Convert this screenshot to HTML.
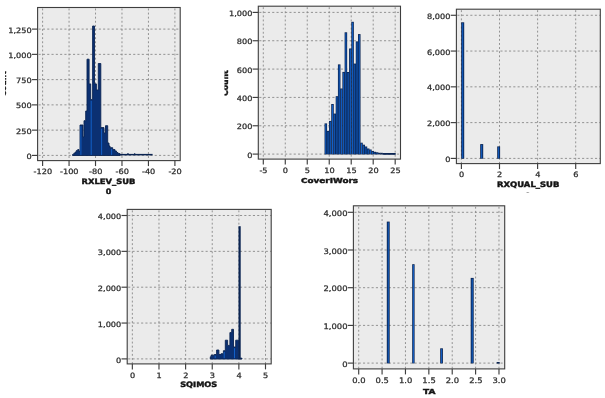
<!DOCTYPE html>
<html><head><meta charset="utf-8"><title>Histograms</title>
<style>
html,body{margin:0;padding:0;background:#fff;}
body{width:605px;height:398px;overflow:hidden;}
svg{display:block;}
.t{font-family:"DejaVu Sans", "Liberation Sans", sans-serif;font-size:8.2px;fill:#2e2e2e;stroke:#2e2e2e;stroke-width:0.3px;}
.h{font-family:"DejaVu Sans", "Liberation Sans", sans-serif;font-size:8px;font-weight:bold;fill:#141414;stroke:#141414;stroke-width:0.45px;}
</style></head><body>
<svg width="605" height="398" viewBox="0 0 605 398">
<rect width="605" height="398" fill="#fff"/>
<g>
<rect x="37.60" y="7.50" width="142.60" height="153.10" fill="#ebebeb"/>
<line x1="42.60" y1="8.50" x2="42.60" y2="160.60" stroke="#888888" stroke-width="0.9" stroke-dasharray="1.9 2.2"/>
<line x1="69.06" y1="8.50" x2="69.06" y2="160.60" stroke="#888888" stroke-width="0.9" stroke-dasharray="1.9 2.2"/>
<line x1="95.52" y1="8.50" x2="95.52" y2="160.60" stroke="#888888" stroke-width="0.9" stroke-dasharray="1.9 2.2"/>
<line x1="121.98" y1="8.50" x2="121.98" y2="160.60" stroke="#888888" stroke-width="0.9" stroke-dasharray="1.9 2.2"/>
<line x1="148.44" y1="8.50" x2="148.44" y2="160.60" stroke="#888888" stroke-width="0.9" stroke-dasharray="1.9 2.2"/>
<line x1="174.90" y1="8.50" x2="174.90" y2="160.60" stroke="#888888" stroke-width="0.9" stroke-dasharray="1.9 2.2"/>
<line x1="38.60" y1="155.40" x2="180.20" y2="155.40" stroke="#888888" stroke-width="0.9" stroke-dasharray="2.1 2.2"/>
<line x1="38.60" y1="130.14" x2="180.20" y2="130.14" stroke="#888888" stroke-width="0.9" stroke-dasharray="2.1 2.2"/>
<line x1="38.60" y1="104.88" x2="180.20" y2="104.88" stroke="#888888" stroke-width="0.9" stroke-dasharray="2.1 2.2"/>
<line x1="38.60" y1="79.62" x2="180.20" y2="79.62" stroke="#888888" stroke-width="0.9" stroke-dasharray="2.1 2.2"/>
<line x1="38.60" y1="54.36" x2="180.20" y2="54.36" stroke="#888888" stroke-width="0.9" stroke-dasharray="2.1 2.2"/>
<line x1="38.60" y1="29.10" x2="180.20" y2="29.10" stroke="#888888" stroke-width="0.9" stroke-dasharray="2.1 2.2"/>
<path d="M72.50,155.50 L72.50,154.50 L73.80,154.50 L73.80,153.30 L75.10,153.30 L75.10,152.00 L76.40,152.00 L76.40,150.50 L77.70,150.50 L77.70,149.60 L79.00,149.60 L79.00,151.50 L80.00,151.50 L80.00,125.00 L83.00,125.00 L83.00,137.00 L84.00,137.00 L84.00,120.70 L85.70,120.70 L85.70,111.00 L87.00,111.00 L87.00,59.20 L89.10,59.20 L89.10,83.90 L90.70,83.90 L90.70,99.60 L92.60,99.60 L92.60,26.00 L94.50,26.00 L94.50,83.90 L96.40,83.90 L96.40,90.00 L98.30,90.00 L98.30,63.50 L100.80,63.50 L100.80,127.60 L104.00,127.60 L104.00,133.00 L105.50,133.00 L105.50,125.70 L107.70,125.70 L107.70,143.00 L109.00,143.00 L109.00,146.00 L110.00,146.00 L110.00,147.70 L112.70,147.70 L112.70,149.60 L115.00,149.60 L115.00,151.00 L116.50,151.00 L116.50,152.50 L118.00,152.50 L118.00,153.60 L120.00,153.60 L120.00,155.50Z" fill="#0b3072" stroke="#0a2452" stroke-width="0.9" stroke-linejoin="miter"/>
<rect x="119.50" y="153.90" width="33.10" height="1.50" fill="#0a2452"/>
<rect x="127.30" y="153.10" width="1.30" height="1.90" fill="#0a2452"/>
<rect x="134.00" y="153.30" width="1.30" height="1.70" fill="#0a2452"/>
<rect x="80.40" y="126.20" width="1.00" height="28.70" fill="#1260c8"/>
<rect x="90.70" y="100.80" width="1.00" height="54.10" fill="#1260c8"/>
<rect x="101.10" y="128.80" width="1.00" height="26.10" fill="#1260c8"/>
<rect x="111.10" y="148.90" width="1.00" height="6.00" fill="#1260c8"/>
<rect x="37.60" y="7.50" width="142.60" height="153.10" fill="none" stroke="#3e3e3e" stroke-width="1.1"/>
<line x1="42.60" y1="160.60" x2="42.60" y2="166.10" stroke="#3e3e3e" stroke-width="1.15"/>
<text transform="translate(42.80,174.00) scale(1.0,0.9)" text-anchor="middle" class="t" style="font-size:8.2px">-120</text>
<line x1="69.06" y1="160.60" x2="69.06" y2="166.10" stroke="#3e3e3e" stroke-width="1.15"/>
<text transform="translate(69.26,174.00) scale(1.0,0.9)" text-anchor="middle" class="t" style="font-size:8.2px">-100</text>
<line x1="95.52" y1="160.60" x2="95.52" y2="166.10" stroke="#3e3e3e" stroke-width="1.15"/>
<text transform="translate(95.72,174.00) scale(1.0,0.9)" text-anchor="middle" class="t" style="font-size:8.2px">-80</text>
<line x1="121.98" y1="160.60" x2="121.98" y2="166.10" stroke="#3e3e3e" stroke-width="1.15"/>
<text transform="translate(122.18,174.00) scale(1.0,0.9)" text-anchor="middle" class="t" style="font-size:8.2px">-60</text>
<line x1="148.44" y1="160.60" x2="148.44" y2="166.10" stroke="#3e3e3e" stroke-width="1.15"/>
<text transform="translate(148.64,174.00) scale(1.0,0.9)" text-anchor="middle" class="t" style="font-size:8.2px">-40</text>
<line x1="174.90" y1="160.60" x2="174.90" y2="166.10" stroke="#3e3e3e" stroke-width="1.15"/>
<text transform="translate(175.10,174.00) scale(1.0,0.9)" text-anchor="middle" class="t" style="font-size:8.2px">-20</text>
<line x1="31.90" y1="155.40" x2="37.60" y2="155.40" stroke="#3e3e3e" stroke-width="1.15"/>
<text transform="translate(31.70,159.00) scale(1.0,0.9)" text-anchor="end" class="t" style="font-size:8.2px">0</text>
<line x1="31.90" y1="130.14" x2="37.60" y2="130.14" stroke="#3e3e3e" stroke-width="1.15"/>
<text transform="translate(31.70,133.74) scale(1.0,0.9)" text-anchor="end" class="t" style="font-size:8.2px">250</text>
<line x1="31.90" y1="104.88" x2="37.60" y2="104.88" stroke="#3e3e3e" stroke-width="1.15"/>
<text transform="translate(31.70,108.48) scale(1.0,0.9)" text-anchor="end" class="t" style="font-size:8.2px">500</text>
<line x1="31.90" y1="79.62" x2="37.60" y2="79.62" stroke="#3e3e3e" stroke-width="1.15"/>
<text transform="translate(31.70,83.22) scale(1.0,0.9)" text-anchor="end" class="t" style="font-size:8.2px">750</text>
<line x1="31.90" y1="54.36" x2="37.60" y2="54.36" stroke="#3e3e3e" stroke-width="1.15"/>
<text transform="translate(31.70,57.96) scale(1.0,0.9)" text-anchor="end" class="t" style="font-size:8.2px">1,000</text>
<line x1="31.90" y1="29.10" x2="37.60" y2="29.10" stroke="#3e3e3e" stroke-width="1.15"/>
<text transform="translate(31.70,32.70) scale(1.0,0.9)" text-anchor="end" class="t" style="font-size:8.2px">1,250</text>
<text transform="translate(108.50,183.90) scale(1.048,0.93)" text-anchor="middle" class="h">RXLEV_SUB</text>
<text transform="translate(108.50,194.40) scale(1.000,0.93)" text-anchor="middle" class="h">0</text>
</g>
<g>
<rect x="258.30" y="6.20" width="142.20" height="152.90" fill="#ebebeb"/>
<line x1="263.30" y1="7.20" x2="263.30" y2="159.10" stroke="#888888" stroke-width="0.9" stroke-dasharray="1.9 2.2"/>
<line x1="285.28" y1="7.20" x2="285.28" y2="159.10" stroke="#888888" stroke-width="0.9" stroke-dasharray="1.9 2.2"/>
<line x1="307.26" y1="7.20" x2="307.26" y2="159.10" stroke="#888888" stroke-width="0.9" stroke-dasharray="1.9 2.2"/>
<line x1="329.24" y1="7.20" x2="329.24" y2="159.10" stroke="#888888" stroke-width="0.9" stroke-dasharray="1.9 2.2"/>
<line x1="351.22" y1="7.20" x2="351.22" y2="159.10" stroke="#888888" stroke-width="0.9" stroke-dasharray="1.9 2.2"/>
<line x1="373.20" y1="7.20" x2="373.20" y2="159.10" stroke="#888888" stroke-width="0.9" stroke-dasharray="1.9 2.2"/>
<line x1="395.18" y1="7.20" x2="395.18" y2="159.10" stroke="#888888" stroke-width="0.9" stroke-dasharray="1.9 2.2"/>
<line x1="259.30" y1="154.10" x2="400.50" y2="154.10" stroke="#888888" stroke-width="0.9" stroke-dasharray="2.1 2.2"/>
<line x1="259.30" y1="125.76" x2="400.50" y2="125.76" stroke="#888888" stroke-width="0.9" stroke-dasharray="2.1 2.2"/>
<line x1="259.30" y1="97.42" x2="400.50" y2="97.42" stroke="#888888" stroke-width="0.9" stroke-dasharray="2.1 2.2"/>
<line x1="259.30" y1="69.08" x2="400.50" y2="69.08" stroke="#888888" stroke-width="0.9" stroke-dasharray="2.1 2.2"/>
<line x1="259.30" y1="40.74" x2="400.50" y2="40.74" stroke="#888888" stroke-width="0.9" stroke-dasharray="2.1 2.2"/>
<line x1="259.30" y1="12.40" x2="400.50" y2="12.40" stroke="#888888" stroke-width="0.9" stroke-dasharray="2.1 2.2"/>
<rect x="324.55" y="123.40" width="2.53" height="31.00" fill="#0a2452"/>
<rect x="325.31" y="124.20" width="1.00" height="29.70" fill="#1260c8"/>
<rect x="326.78" y="130.90" width="2.53" height="23.50" fill="#0a2452"/>
<rect x="327.54" y="131.70" width="1.00" height="22.20" fill="#1260c8"/>
<rect x="329.01" y="120.90" width="2.53" height="33.50" fill="#0a2452"/>
<rect x="329.77" y="121.70" width="1.00" height="32.20" fill="#1260c8"/>
<rect x="331.24" y="104.00" width="2.53" height="50.40" fill="#0a2452"/>
<rect x="332.00" y="104.80" width="1.00" height="49.10" fill="#1260c8"/>
<rect x="333.47" y="113.60" width="2.53" height="40.80" fill="#0a2452"/>
<rect x="334.24" y="114.40" width="1.00" height="39.50" fill="#1260c8"/>
<rect x="335.70" y="96.20" width="2.53" height="58.20" fill="#0a2452"/>
<rect x="336.46" y="97.00" width="1.00" height="56.90" fill="#1260c8"/>
<rect x="337.93" y="64.40" width="2.53" height="90.00" fill="#0a2452"/>
<rect x="338.69" y="65.20" width="1.00" height="88.70" fill="#1260c8"/>
<rect x="340.16" y="88.50" width="2.53" height="65.90" fill="#0a2452"/>
<rect x="340.92" y="89.30" width="1.00" height="64.60" fill="#1260c8"/>
<rect x="342.39" y="71.90" width="2.53" height="82.50" fill="#0a2452"/>
<rect x="343.15" y="72.70" width="1.00" height="81.20" fill="#1260c8"/>
<rect x="344.62" y="32.30" width="2.53" height="122.10" fill="#0a2452"/>
<rect x="345.38" y="33.10" width="1.00" height="120.80" fill="#1260c8"/>
<rect x="346.85" y="72.00" width="2.53" height="82.40" fill="#0a2452"/>
<rect x="347.62" y="72.80" width="1.00" height="81.10" fill="#1260c8"/>
<rect x="349.08" y="48.50" width="2.53" height="105.90" fill="#0a2452"/>
<rect x="349.85" y="49.30" width="1.00" height="104.60" fill="#1260c8"/>
<rect x="351.31" y="21.80" width="2.53" height="132.60" fill="#0a2452"/>
<rect x="352.07" y="22.60" width="1.00" height="131.30" fill="#1260c8"/>
<rect x="353.54" y="63.60" width="2.53" height="90.80" fill="#0a2452"/>
<rect x="354.30" y="64.40" width="1.00" height="89.50" fill="#1260c8"/>
<rect x="355.77" y="41.40" width="2.53" height="113.00" fill="#0a2452"/>
<rect x="356.53" y="42.20" width="1.00" height="111.70" fill="#1260c8"/>
<rect x="358.00" y="34.10" width="2.53" height="120.30" fill="#0a2452"/>
<rect x="358.76" y="34.90" width="1.00" height="119.00" fill="#1260c8"/>
<rect x="360.23" y="142.70" width="2.53" height="11.70" fill="#0a2452"/>
<rect x="361.00" y="143.50" width="1.00" height="10.40" fill="#1260c8"/>
<rect x="362.46" y="144.70" width="2.53" height="9.70" fill="#0a2452"/>
<rect x="363.23" y="145.50" width="1.00" height="8.40" fill="#1260c8"/>
<rect x="364.69" y="146.50" width="2.53" height="7.90" fill="#0a2452"/>
<rect x="365.45" y="147.30" width="1.00" height="6.60" fill="#1260c8"/>
<rect x="366.92" y="148.50" width="2.53" height="5.90" fill="#0a2452"/>
<rect x="367.69" y="149.30" width="1.00" height="4.60" fill="#1260c8"/>
<rect x="369.15" y="149.50" width="2.53" height="4.90" fill="#0a2452"/>
<rect x="369.91" y="150.30" width="1.00" height="3.60" fill="#1260c8"/>
<rect x="371.38" y="151.00" width="2.53" height="3.40" fill="#0a2452"/>
<rect x="372.14" y="151.80" width="1.00" height="2.10" fill="#1260c8"/>
<rect x="373.61" y="151.80" width="2.53" height="2.60" fill="#0a2452"/>
<rect x="374.38" y="152.60" width="1.00" height="1.30" fill="#1260c8"/>
<rect x="375.84" y="152.30" width="2.53" height="2.10" fill="#0a2452"/>
<rect x="376.61" y="153.10" width="1.00" height="0.80" fill="#1260c8"/>
<rect x="378.07" y="152.80" width="2.53" height="1.60" fill="#0a2452"/>
<rect x="380.30" y="152.80" width="2.53" height="1.60" fill="#0a2452"/>
<rect x="382.48" y="153.00" width="13.22" height="1.80" fill="#0a2452"/>
<rect x="258.30" y="6.20" width="142.20" height="152.90" fill="none" stroke="#3e3e3e" stroke-width="1.1"/>
<line x1="263.30" y1="159.10" x2="263.30" y2="164.60" stroke="#3e3e3e" stroke-width="1.15"/>
<text transform="translate(263.50,172.70) scale(1.0,0.9)" text-anchor="middle" class="t" style="font-size:8.2px">-5</text>
<line x1="285.28" y1="159.10" x2="285.28" y2="164.60" stroke="#3e3e3e" stroke-width="1.15"/>
<text transform="translate(285.48,172.70) scale(1.0,0.9)" text-anchor="middle" class="t" style="font-size:8.2px">0</text>
<line x1="307.26" y1="159.10" x2="307.26" y2="164.60" stroke="#3e3e3e" stroke-width="1.15"/>
<text transform="translate(307.46,172.70) scale(1.0,0.9)" text-anchor="middle" class="t" style="font-size:8.2px">5</text>
<line x1="329.24" y1="159.10" x2="329.24" y2="164.60" stroke="#3e3e3e" stroke-width="1.15"/>
<text transform="translate(329.44,172.70) scale(1.0,0.9)" text-anchor="middle" class="t" style="font-size:8.2px">10</text>
<line x1="351.22" y1="159.10" x2="351.22" y2="164.60" stroke="#3e3e3e" stroke-width="1.15"/>
<text transform="translate(351.42,172.70) scale(1.0,0.9)" text-anchor="middle" class="t" style="font-size:8.2px">15</text>
<line x1="373.20" y1="159.10" x2="373.20" y2="164.60" stroke="#3e3e3e" stroke-width="1.15"/>
<text transform="translate(373.40,172.70) scale(1.0,0.9)" text-anchor="middle" class="t" style="font-size:8.2px">20</text>
<line x1="395.18" y1="159.10" x2="395.18" y2="164.60" stroke="#3e3e3e" stroke-width="1.15"/>
<text transform="translate(395.38,172.70) scale(1.0,0.9)" text-anchor="middle" class="t" style="font-size:8.2px">25</text>
<line x1="252.60" y1="154.10" x2="258.30" y2="154.10" stroke="#3e3e3e" stroke-width="1.15"/>
<text transform="translate(252.40,157.70) scale(1.0,0.9)" text-anchor="end" class="t" style="font-size:8.2px">0</text>
<line x1="252.60" y1="125.76" x2="258.30" y2="125.76" stroke="#3e3e3e" stroke-width="1.15"/>
<text transform="translate(252.40,129.36) scale(1.0,0.9)" text-anchor="end" class="t" style="font-size:8.2px">200</text>
<line x1="252.60" y1="97.42" x2="258.30" y2="97.42" stroke="#3e3e3e" stroke-width="1.15"/>
<text transform="translate(252.40,101.02) scale(1.0,0.9)" text-anchor="end" class="t" style="font-size:8.2px">400</text>
<line x1="252.60" y1="69.08" x2="258.30" y2="69.08" stroke="#3e3e3e" stroke-width="1.15"/>
<text transform="translate(252.40,72.68) scale(1.0,0.9)" text-anchor="end" class="t" style="font-size:8.2px">600</text>
<line x1="252.60" y1="40.74" x2="258.30" y2="40.74" stroke="#3e3e3e" stroke-width="1.15"/>
<text transform="translate(252.40,44.34) scale(1.0,0.9)" text-anchor="end" class="t" style="font-size:8.2px">800</text>
<line x1="252.60" y1="12.40" x2="258.30" y2="12.40" stroke="#3e3e3e" stroke-width="1.15"/>
<text transform="translate(252.40,16.00) scale(1.0,0.9)" text-anchor="end" class="t" style="font-size:8.2px">1,000</text>
<text transform="translate(329.50,182.50) scale(1.109,0.93)" text-anchor="middle" class="h">CoverIWors</text>
</g>
<g>
<rect x="456.40" y="9.20" width="143.90" height="154.40" fill="#ebebeb"/>
<line x1="461.40" y1="10.20" x2="461.40" y2="163.60" stroke="#888888" stroke-width="0.9" stroke-dasharray="1.9 2.2"/>
<line x1="499.50" y1="10.20" x2="499.50" y2="163.60" stroke="#888888" stroke-width="0.9" stroke-dasharray="1.9 2.2"/>
<line x1="537.60" y1="10.20" x2="537.60" y2="163.60" stroke="#888888" stroke-width="0.9" stroke-dasharray="1.9 2.2"/>
<line x1="575.70" y1="10.20" x2="575.70" y2="163.60" stroke="#888888" stroke-width="0.9" stroke-dasharray="1.9 2.2"/>
<line x1="457.40" y1="158.40" x2="600.30" y2="158.40" stroke="#888888" stroke-width="0.9" stroke-dasharray="2.1 2.2"/>
<line x1="457.40" y1="122.62" x2="600.30" y2="122.62" stroke="#888888" stroke-width="0.9" stroke-dasharray="2.1 2.2"/>
<line x1="457.40" y1="86.84" x2="600.30" y2="86.84" stroke="#888888" stroke-width="0.9" stroke-dasharray="2.1 2.2"/>
<line x1="457.40" y1="51.06" x2="600.30" y2="51.06" stroke="#888888" stroke-width="0.9" stroke-dasharray="2.1 2.2"/>
<line x1="457.40" y1="15.28" x2="600.30" y2="15.28" stroke="#888888" stroke-width="0.9" stroke-dasharray="2.1 2.2"/>
<rect x="461.20" y="22.30" width="3.00" height="136.40" fill="#0a2452"/>
<rect x="462.15" y="23.10" width="1.10" height="135.10" fill="#1260c8"/>
<rect x="480.20" y="144.10" width="3.00" height="14.60" fill="#0a2452"/>
<rect x="481.15" y="144.90" width="1.10" height="13.30" fill="#1260c8"/>
<rect x="497.20" y="146.40" width="2.90" height="12.30" fill="#0a2452"/>
<rect x="498.15" y="147.20" width="1.00" height="11.00" fill="#1260c8"/>
<rect x="456.40" y="9.20" width="143.90" height="154.40" fill="none" stroke="#3e3e3e" stroke-width="1.1"/>
<line x1="461.40" y1="163.60" x2="461.40" y2="169.10" stroke="#3e3e3e" stroke-width="1.15"/>
<text transform="translate(461.60,177.30) scale(1.0,0.9)" text-anchor="middle" class="t" style="font-size:8.2px">0</text>
<line x1="499.50" y1="163.60" x2="499.50" y2="169.10" stroke="#3e3e3e" stroke-width="1.15"/>
<text transform="translate(499.70,177.30) scale(1.0,0.9)" text-anchor="middle" class="t" style="font-size:8.2px">2</text>
<line x1="537.60" y1="163.60" x2="537.60" y2="169.10" stroke="#3e3e3e" stroke-width="1.15"/>
<text transform="translate(537.80,177.30) scale(1.0,0.9)" text-anchor="middle" class="t" style="font-size:8.2px">4</text>
<line x1="575.70" y1="163.60" x2="575.70" y2="169.10" stroke="#3e3e3e" stroke-width="1.15"/>
<text transform="translate(575.90,177.30) scale(1.0,0.9)" text-anchor="middle" class="t" style="font-size:8.2px">6</text>
<line x1="450.70" y1="158.40" x2="456.40" y2="158.40" stroke="#3e3e3e" stroke-width="1.15"/>
<text transform="translate(450.50,162.00) scale(1.0,0.9)" text-anchor="end" class="t" style="font-size:8.2px">0</text>
<line x1="450.70" y1="122.62" x2="456.40" y2="122.62" stroke="#3e3e3e" stroke-width="1.15"/>
<text transform="translate(450.50,126.22) scale(1.0,0.9)" text-anchor="end" class="t" style="font-size:8.2px">2,000</text>
<line x1="450.70" y1="86.84" x2="456.40" y2="86.84" stroke="#3e3e3e" stroke-width="1.15"/>
<text transform="translate(450.50,90.44) scale(1.0,0.9)" text-anchor="end" class="t" style="font-size:8.2px">4,000</text>
<line x1="450.70" y1="51.06" x2="456.40" y2="51.06" stroke="#3e3e3e" stroke-width="1.15"/>
<text transform="translate(450.50,54.66) scale(1.0,0.9)" text-anchor="end" class="t" style="font-size:8.2px">6,000</text>
<line x1="450.70" y1="15.28" x2="456.40" y2="15.28" stroke="#3e3e3e" stroke-width="1.15"/>
<text transform="translate(450.50,18.88) scale(1.0,0.9)" text-anchor="end" class="t" style="font-size:8.2px">8,000</text>
<text transform="translate(528.20,187.20) scale(1.059,0.93)" text-anchor="middle" class="h">RXQUAL_SUB</text>
</g>
<g>
<rect x="127.20" y="209.40" width="144.00" height="154.50" fill="#ebebeb"/>
<line x1="132.35" y1="210.40" x2="132.35" y2="363.90" stroke="#888888" stroke-width="0.9" stroke-dasharray="1.9 2.2"/>
<line x1="158.98" y1="210.40" x2="158.98" y2="363.90" stroke="#888888" stroke-width="0.9" stroke-dasharray="1.9 2.2"/>
<line x1="185.61" y1="210.40" x2="185.61" y2="363.90" stroke="#888888" stroke-width="0.9" stroke-dasharray="1.9 2.2"/>
<line x1="212.24" y1="210.40" x2="212.24" y2="363.90" stroke="#888888" stroke-width="0.9" stroke-dasharray="1.9 2.2"/>
<line x1="238.87" y1="210.40" x2="238.87" y2="363.90" stroke="#888888" stroke-width="0.9" stroke-dasharray="1.9 2.2"/>
<line x1="265.50" y1="210.40" x2="265.50" y2="363.90" stroke="#888888" stroke-width="0.9" stroke-dasharray="1.9 2.2"/>
<line x1="128.20" y1="358.90" x2="271.20" y2="358.90" stroke="#888888" stroke-width="0.9" stroke-dasharray="2.1 2.2"/>
<line x1="128.20" y1="323.05" x2="271.20" y2="323.05" stroke="#888888" stroke-width="0.9" stroke-dasharray="2.1 2.2"/>
<line x1="128.20" y1="287.20" x2="271.20" y2="287.20" stroke="#888888" stroke-width="0.9" stroke-dasharray="2.1 2.2"/>
<line x1="128.20" y1="251.35" x2="271.20" y2="251.35" stroke="#888888" stroke-width="0.9" stroke-dasharray="2.1 2.2"/>
<line x1="128.20" y1="215.50" x2="271.20" y2="215.50" stroke="#888888" stroke-width="0.9" stroke-dasharray="2.1 2.2"/>
<path d="M210.30,359.00 L210.30,356.80 L211.20,356.80 L211.20,355.00 L212.10,355.00 L212.10,355.20 L214.30,355.20 L214.30,354.50 L216.60,354.50 L216.60,350.00 L218.90,350.00 L218.90,354.50 L221.10,354.50 L221.10,353.70 L223.40,353.70 L223.40,350.70 L225.30,350.70 L225.30,340.20 L227.60,340.20 L227.60,345.40 L229.90,345.40 L229.90,332.60 L231.70,332.60 L231.70,329.30 L233.50,329.30 L233.50,347.00 L235.70,347.00 L235.70,340.20 L238.80,340.20 L238.80,358.20 L242.00,358.20 L242.00,359.00Z" fill="#0b3072" stroke="#0a2452" stroke-width="0.9" stroke-linejoin="miter"/>
<rect x="214.70" y="355.70" width="1.00" height="2.50" fill="#1260c8"/>
<rect x="223.70" y="351.90" width="1.00" height="6.30" fill="#1260c8"/>
<rect x="234.00" y="348.20" width="1.00" height="10.00" fill="#1260c8"/>
<rect x="238.50" y="226.20" width="2.20" height="133.10" fill="#0a2452"/>
<rect x="127.20" y="209.40" width="144.00" height="154.50" fill="none" stroke="#3e3e3e" stroke-width="1.1"/>
<line x1="132.35" y1="363.90" x2="132.35" y2="369.40" stroke="#3e3e3e" stroke-width="1.15"/>
<text transform="translate(132.55,377.50) scale(1.0,0.9)" text-anchor="middle" class="t" style="font-size:8.2px">0</text>
<line x1="158.98" y1="363.90" x2="158.98" y2="369.40" stroke="#3e3e3e" stroke-width="1.15"/>
<text transform="translate(159.18,377.50) scale(1.0,0.9)" text-anchor="middle" class="t" style="font-size:8.2px">1</text>
<line x1="185.61" y1="363.90" x2="185.61" y2="369.40" stroke="#3e3e3e" stroke-width="1.15"/>
<text transform="translate(185.81,377.50) scale(1.0,0.9)" text-anchor="middle" class="t" style="font-size:8.2px">2</text>
<line x1="212.24" y1="363.90" x2="212.24" y2="369.40" stroke="#3e3e3e" stroke-width="1.15"/>
<text transform="translate(212.44,377.50) scale(1.0,0.9)" text-anchor="middle" class="t" style="font-size:8.2px">3</text>
<line x1="238.87" y1="363.90" x2="238.87" y2="369.40" stroke="#3e3e3e" stroke-width="1.15"/>
<text transform="translate(239.07,377.50) scale(1.0,0.9)" text-anchor="middle" class="t" style="font-size:8.2px">4</text>
<line x1="265.50" y1="363.90" x2="265.50" y2="369.40" stroke="#3e3e3e" stroke-width="1.15"/>
<text transform="translate(265.70,377.50) scale(1.0,0.9)" text-anchor="middle" class="t" style="font-size:8.2px">5</text>
<line x1="121.50" y1="358.90" x2="127.20" y2="358.90" stroke="#3e3e3e" stroke-width="1.15"/>
<text transform="translate(121.30,362.50) scale(1.0,0.9)" text-anchor="end" class="t" style="font-size:8.2px">0</text>
<line x1="121.50" y1="323.05" x2="127.20" y2="323.05" stroke="#3e3e3e" stroke-width="1.15"/>
<text transform="translate(121.30,326.65) scale(1.0,0.9)" text-anchor="end" class="t" style="font-size:8.2px">1,000</text>
<line x1="121.50" y1="287.20" x2="127.20" y2="287.20" stroke="#3e3e3e" stroke-width="1.15"/>
<text transform="translate(121.30,290.80) scale(1.0,0.9)" text-anchor="end" class="t" style="font-size:8.2px">2,000</text>
<line x1="121.50" y1="251.35" x2="127.20" y2="251.35" stroke="#3e3e3e" stroke-width="1.15"/>
<text transform="translate(121.30,254.95) scale(1.0,0.9)" text-anchor="end" class="t" style="font-size:8.2px">3,000</text>
<line x1="121.50" y1="215.50" x2="127.20" y2="215.50" stroke="#3e3e3e" stroke-width="1.15"/>
<text transform="translate(121.30,219.10) scale(1.0,0.9)" text-anchor="end" class="t" style="font-size:8.2px">4,000</text>
<text transform="translate(198.70,387.20) scale(1.032,0.93)" text-anchor="middle" class="h">SQIMOS</text>
</g>
<g>
<rect x="353.40" y="205.80" width="151.30" height="163.10" fill="#ebebeb"/>
<line x1="358.70" y1="206.80" x2="358.70" y2="368.90" stroke="#888888" stroke-width="0.9" stroke-dasharray="1.9 2.2"/>
<line x1="382.08" y1="206.80" x2="382.08" y2="368.90" stroke="#888888" stroke-width="0.9" stroke-dasharray="1.9 2.2"/>
<line x1="405.46" y1="206.80" x2="405.46" y2="368.90" stroke="#888888" stroke-width="0.9" stroke-dasharray="1.9 2.2"/>
<line x1="428.84" y1="206.80" x2="428.84" y2="368.90" stroke="#888888" stroke-width="0.9" stroke-dasharray="1.9 2.2"/>
<line x1="452.22" y1="206.80" x2="452.22" y2="368.90" stroke="#888888" stroke-width="0.9" stroke-dasharray="1.9 2.2"/>
<line x1="475.60" y1="206.80" x2="475.60" y2="368.90" stroke="#888888" stroke-width="0.9" stroke-dasharray="1.9 2.2"/>
<line x1="498.98" y1="206.80" x2="498.98" y2="368.90" stroke="#888888" stroke-width="0.9" stroke-dasharray="1.9 2.2"/>
<line x1="354.40" y1="363.10" x2="504.70" y2="363.10" stroke="#888888" stroke-width="0.9" stroke-dasharray="2.1 2.2"/>
<line x1="354.40" y1="325.40" x2="504.70" y2="325.40" stroke="#888888" stroke-width="0.9" stroke-dasharray="2.1 2.2"/>
<line x1="354.40" y1="287.70" x2="504.70" y2="287.70" stroke="#888888" stroke-width="0.9" stroke-dasharray="2.1 2.2"/>
<line x1="354.40" y1="250.00" x2="504.70" y2="250.00" stroke="#888888" stroke-width="0.9" stroke-dasharray="2.1 2.2"/>
<line x1="354.40" y1="212.30" x2="504.70" y2="212.30" stroke="#888888" stroke-width="0.9" stroke-dasharray="2.1 2.2"/>
<rect x="386.80" y="221.60" width="2.90" height="141.80" fill="#0a2452"/>
<rect x="387.75" y="222.40" width="1.00" height="140.50" fill="#1260c8"/>
<rect x="412.20" y="264.20" width="2.40" height="99.20" fill="#0a2452"/>
<rect x="412.90" y="265.00" width="1.00" height="97.90" fill="#1260c8"/>
<rect x="440.20" y="348.30" width="2.70" height="15.10" fill="#0a2452"/>
<rect x="441.05" y="349.10" width="1.00" height="13.80" fill="#1260c8"/>
<rect x="470.70" y="277.90" width="3.00" height="85.50" fill="#0a2452"/>
<rect x="471.65" y="278.70" width="1.10" height="84.20" fill="#1260c8"/>
<rect x="496.70" y="362.00" width="3.00" height="1.60" fill="#0a2452"/>
<rect x="353.40" y="205.80" width="151.30" height="163.10" fill="none" stroke="#3e3e3e" stroke-width="1.1"/>
<line x1="358.70" y1="368.90" x2="358.70" y2="374.40" stroke="#3e3e3e" stroke-width="1.15"/>
<text transform="translate(358.90,383.20) scale(1.0,0.9)" text-anchor="middle" class="t" style="font-size:8.4px">0.0</text>
<line x1="382.08" y1="368.90" x2="382.08" y2="374.40" stroke="#3e3e3e" stroke-width="1.15"/>
<text transform="translate(382.28,383.20) scale(1.0,0.9)" text-anchor="middle" class="t" style="font-size:8.4px">0.5</text>
<line x1="405.46" y1="368.90" x2="405.46" y2="374.40" stroke="#3e3e3e" stroke-width="1.15"/>
<text transform="translate(405.66,383.20) scale(1.0,0.9)" text-anchor="middle" class="t" style="font-size:8.4px">1.0</text>
<line x1="428.84" y1="368.90" x2="428.84" y2="374.40" stroke="#3e3e3e" stroke-width="1.15"/>
<text transform="translate(429.04,383.20) scale(1.0,0.9)" text-anchor="middle" class="t" style="font-size:8.4px">1.5</text>
<line x1="452.22" y1="368.90" x2="452.22" y2="374.40" stroke="#3e3e3e" stroke-width="1.15"/>
<text transform="translate(452.42,383.20) scale(1.0,0.9)" text-anchor="middle" class="t" style="font-size:8.4px">2.0</text>
<line x1="475.60" y1="368.90" x2="475.60" y2="374.40" stroke="#3e3e3e" stroke-width="1.15"/>
<text transform="translate(475.80,383.20) scale(1.0,0.9)" text-anchor="middle" class="t" style="font-size:8.4px">2.5</text>
<line x1="498.98" y1="368.90" x2="498.98" y2="374.40" stroke="#3e3e3e" stroke-width="1.15"/>
<text transform="translate(499.18,383.20) scale(1.0,0.9)" text-anchor="middle" class="t" style="font-size:8.4px">3.0</text>
<line x1="347.70" y1="363.10" x2="353.40" y2="363.10" stroke="#3e3e3e" stroke-width="1.15"/>
<text transform="translate(347.50,366.70) scale(1.0,0.9)" text-anchor="end" class="t" style="font-size:8.4px">0</text>
<line x1="347.70" y1="325.40" x2="353.40" y2="325.40" stroke="#3e3e3e" stroke-width="1.15"/>
<text transform="translate(347.50,329.00) scale(1.0,0.9)" text-anchor="end" class="t" style="font-size:8.4px">1,000</text>
<line x1="347.70" y1="287.70" x2="353.40" y2="287.70" stroke="#3e3e3e" stroke-width="1.15"/>
<text transform="translate(347.50,291.30) scale(1.0,0.9)" text-anchor="end" class="t" style="font-size:8.4px">2,000</text>
<line x1="347.70" y1="250.00" x2="353.40" y2="250.00" stroke="#3e3e3e" stroke-width="1.15"/>
<text transform="translate(347.50,253.60) scale(1.0,0.9)" text-anchor="end" class="t" style="font-size:8.4px">3,000</text>
<line x1="347.70" y1="212.30" x2="353.40" y2="212.30" stroke="#3e3e3e" stroke-width="1.15"/>
<text transform="translate(347.50,215.90) scale(1.0,0.9)" text-anchor="end" class="t" style="font-size:8.4px">4,000</text>
<text transform="translate(429.30,393.50) scale(1.133,0.93)" text-anchor="middle" class="h">TA</text>
</g>
<!-- clipped y-axis titles -->
<svg x="224.5" y="60" width="6" height="50" overflow="hidden"><text transform="translate(3.6,36) rotate(-90)" class="h" textLength="25.8" lengthAdjust="spacingAndGlyphs">Count</text></svg>
<svg x="5.0" y="60" width="4" height="50" overflow="hidden"><text transform="translate(1.35,36.5) rotate(-90)" class="h" textLength="25.4" lengthAdjust="spacingAndGlyphs">Count</text></svg>
<svg x="520" y="191.6" width="16" height="1.3" overflow="hidden"><text x="7.8" y="5.6" text-anchor="middle" class="h" style="fill:#7d7d7d;stroke:none;font-size:6.5px">0</text></svg>
</svg>
</body></html>
